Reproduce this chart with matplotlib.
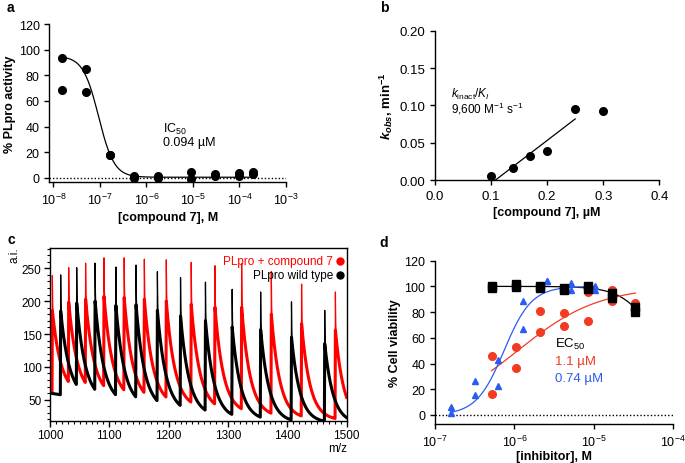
import numpy as np
import matplotlib
matplotlib.use("Agg")
import matplotlib.pyplot as plt
from matplotlib.ticker import FixedLocator, MultipleLocator, NullLocator, FormatStrFormatter

plt.rcParams['font.family'] = ['Liberation Sans', 'DejaVu Sans']
plt.rcParams['mathtext.fontset'] = 'custom'
plt.rcParams['mathtext.rm'] = 'Liberation Sans:bold'
plt.rcParams['mathtext.it'] = 'Liberation Sans:bold:italic'
plt.rcParams['mathtext.sf'] = 'Liberation Sans:italic'
plt.rcParams['font.size'] = 9
plt.rcParams['axes.linewidth'] = 1.0
plt.rcParams['xtick.major.width'] = 1.0
plt.rcParams['ytick.major.width'] = 1.0
plt.rcParams['xtick.labelsize'] = 9
plt.rcParams['ytick.labelsize'] = 9

# ---- panel a : IC50 of compound 7
conc_a = [1.56e-8, 4.95e-8, 1.65e-7, 5.3e-7, 1.78e-6, 9.1e-6, 2.93e-5, 9.6e-5, 1.99e-4]
act_a1 = [93.5, 84.7, 17.7, 1.3, 1.8, 4.2, 2.9, 3.9, 4.4]
act_a2 = [68.6, 66.8, 17.7, 0.2, -0.3, -0.8, 1.8, 1.3, 2.9]
IC50 = 9.4e-8
HILL_A = 2.6
TOP_A, BOT_A = 95.0, 0.5

# ---- panel b : kobs vs concentration
conc_b = [0.10, 0.14, 0.17, 0.20, 0.25, 0.30]
kobs_b = [0.0054, 0.0161, 0.0326, 0.0393, 0.0946, 0.0924]
SLOPE_B = 0.576   # 9,600 M-1 s-1 in min-1 uM-1
X0_B = 0.108
line_b_x = [0.108, 0.25]

# ---- panel c : MALDI spectrum peaks
red_mz = [1004, 1031.5, 1060, 1091, 1125, 1159, 1196, 1238, 1278, 1323, 1373, 1424, 1481]
red_top = [239, 251, 258, 266, 266, 264, 263, 259, 254, 257, 245, 226, 214]
black_mz = [1018, 1045, 1076, 1111, 1145, 1181, 1220, 1262, 1307, 1355, 1407, 1463]
black_top = [240, 251, 258, 252, 255, 245, 236, 229, 218, 214, 199, 186]
base_mz = [1000, 1100, 1200, 1300, 1400, 1500]
red_base = [62, 54, 42, 32, 22, 18]
black_base = [60, 46, 34, 22, 16, 14]

# ---- panel d : cell viability
conc_d = [5.16e-7, 1.04e-6, 2.08e-6, 4.17e-6, 8.33e-6, 1.67e-5, 3.33e-5]
tox_1 = [100.5, 102, 100, 99, 100, 95, 84]
tox_2 = [99, 99.5, 99, 97, 98, 91, 80]
red_1 = [46, 52.6, 80.6, 79.3, 95.4, 97.5, 87]
red_2 = [16.3, 36.3, 64.8, 69.5, 73.4, 88.9, 83.7]
conc_blue = [1.57e-7, 3.15e-7, 6.3e-7, 1.27e-6, 2.55e-6, 5.1e-6, 1.02e-5]
blue_1 = [6, 26.7, 42.8, 88.4, 104.5, 102.6, 100]
blue_2 = [1.8, 15.8, 22.8, 66.9, 104.5, 97.2, 97.5]
EC50_RED, HILL_RED = 1.1e-6, 0.85
EC50_BLUE, HILL_BLUE = 0.74e-6, 2.5
CC50, HILL_TOX = 7.3e-5, 2.0

RED_D = '#f23b22'
BLUE_D = '#2b5cf2'

fig = plt.figure(figsize=(6.85, 4.64), dpi=100)

# ================= a
ax = fig.add_axes([0.072, 0.6062, 0.3455, 0.3399])
ax.set_xscale('log')
ax.set_xlim(10 ** -8.086, 1e-3)
ax.set_ylim(-3, 120)
ax.axhline(0, color='k', ls=(0, (1, 1.5)), lw=1.0)
xc = np.logspace(np.log10(conc_a[0]), np.log10(conc_a[-1]), 300)
ax.plot(xc, BOT_A + (TOP_A - BOT_A) / (1 + (xc / IC50) ** HILL_A), color='k', lw=0.9)
ax.plot(conc_a, act_a1, 'o', color='k', ms=5.5)
ax.plot(conc_a, act_a2, 'o', color='k', ms=5.5)
ax.xaxis.set_major_locator(FixedLocator([1e-8, 1e-7, 1e-6, 1e-5, 1e-4, 1e-3]))
ax.xaxis.set_minor_locator(NullLocator())
ax.yaxis.set_major_locator(MultipleLocator(20))
ax.set_xlabel('[compound 7], M', fontweight='bold', fontsize=9, labelpad=3)
ax.set_ylabel('% PLpro activity', fontweight='bold', fontsize=9, labelpad=2)
ax.text(2.25e-6, 35.8, r'IC$_{\mathdefault{50}}$', fontsize=9)
ax.text(2.25e-6, 26, r'0.094 µM', fontsize=9)
for s in ['top', 'right']:
    ax.spines[s].set_visible(False)

# ================= b
ax = fig.add_axes([0.635, 0.6099, 0.3275, 0.3218])
ax.set_xlim(0, 0.4)
ax.set_ylim(0, 0.2)
lx = np.array(line_b_x)
ax.plot(lx, SLOPE_B * (lx - X0_B), color='k', lw=0.9)
ax.plot(conc_b, kobs_b, 'o', color='k', ms=5.5)
ax.xaxis.set_major_locator(MultipleLocator(0.1))
ax.yaxis.set_major_locator(MultipleLocator(0.05))
ax.xaxis.set_major_formatter(FormatStrFormatter('%.1f'))
ax.yaxis.set_major_formatter(FormatStrFormatter('%.2f'))
ax.tick_params(labelsize=9.5)
ax.set_xlabel('[compound 7], µM', fontweight='bold', fontsize=9, labelpad=3)
ax.set_ylabel(r'$k_{obs}$, min$^{-1}$', fontweight='bold', fontsize=9.5, labelpad=3)
ax.text(0.0285, 0.1116, r'$\mathsf{k}_{\mathdefault{inact}}$/$\mathsf{K}_{\mathsf{I}}$', fontsize=8.5)
ax.text(0.0285, 0.0907, r'9,600 M$^{\mathdefault{-1}}$ s$^{\mathdefault{-1}}$', fontsize=8.5)
for s in ['top', 'right']:
    ax.spines[s].set_visible(False)

# ================= c
ax = fig.add_axes([0.073, 0.0912, 0.4331, 0.3722])
mz = np.arange(1000, 1500.01, 0.1)


def spectrum(pk_mz, pk_top, b_vals, tau=14.0):
    # returns full trace and trace without the narrow tips
    y = np.interp(mz, base_mz, b_vals)
    y_body = y.copy()
    for m0, top in zip(pk_mz, pk_top):
        h = top - np.interp(m0, mz, y)
        body = 0.7 * h
        dx = mz - m0
        dpos = np.clip(dx, 0, None)
        tail = body * np.exp(-dpos / tau)
        after = (h - body) * np.exp(-dpos / 0.5) + tail
        y = y + np.where(dx >= 0, after, h * np.clip(1 + dx / 0.6, 0, 1))
        y_body = y_body + np.where(dx >= 0, tail, body * np.clip(1 + dx / 0.6, 0, 1))
    return y, y_body


red_full, red_body = spectrum(red_mz, red_top, red_base)
blk_full, blk_body = spectrum(black_mz, black_top, black_base)
ax.plot(mz, red_full, color='#ff0000', lw=0.9)
ax.plot(mz, red_body, color='#ff0000', lw=2.2)
ax.plot(mz, blk_full, color='k', lw=0.9)
ax.plot(mz, blk_body, color='k', lw=2.2)
ax.set_xlim(1000, 1500)
ax.set_ylim(18, 281)
ax.xaxis.set_major_locator(MultipleLocator(100))
ax.xaxis.set_minor_locator(MultipleLocator(10))
ax.set_yticks([50, 100, 150, 200, 250])
ax.yaxis.set_minor_locator(MultipleLocator(10))
ax.tick_params(which='major', length=4, labelsize=8.5, pad=2)
ax.tick_params(which='minor', length=2.5, width=0.8)
ax.text(1.0, -0.125, 'm/z', transform=ax.transAxes, ha='right', va='top', fontsize=8.5)
ax.text(0.954, 0.926, 'PLpro + compound 7', color='#ff0000', transform=ax.transAxes,
        ha='right', va='center', fontsize=8.5)
ax.text(0.954, 0.844, 'PLpro wild type', color='k', transform=ax.transAxes,
        ha='right', va='center', fontsize=8.5)
ax.plot([0.977], [0.926], 'o', color='#ff0000', ms=5, transform=ax.transAxes)
ax.plot([0.977], [0.844], 'o', color='k', ms=5, transform=ax.transAxes)
fig.text(15 / 685, 1 - 255 / 464, 'a.i.', rotation=90, ha='center', va='center', fontsize=8.5)

# ================= d
ax = fig.add_axes([0.635, 0.0841, 0.3479, 0.352])
ax.set_xscale('log')
ax.set_xlim(1e-7, 1e-4)
ax.set_ylim(-7, 120)
ax.axhline(0, color='k', ls=(0, (1, 1.5)), lw=1.0)
xt = np.logspace(np.log10(conc_d[0]), np.log10(conc_d[-1]), 200)
ax.plot(xt, 100 / (1 + (xt / CC50) ** HILL_TOX), color='k', lw=0.9)
ax.plot(xt, 100 / (1 + (EC50_RED / xt) ** HILL_RED), color=RED_D, lw=0.9)
xb = np.logspace(np.log10(conc_blue[0]), np.log10(conc_blue[-1]), 200)
ax.plot(xb, 100 / (1 + (EC50_BLUE / xb) ** HILL_BLUE), color=BLUE_D, lw=0.9)
ax.plot(conc_d, red_1, 'o', color=RED_D, ms=5.5)
ax.plot(conc_d, red_2, 'o', color=RED_D, ms=5.5)
ax.plot(conc_blue, blue_1, '^', color=BLUE_D, ms=5)
ax.plot(conc_blue, blue_2, '^', color=BLUE_D, ms=5)
ax.plot(conc_d, tox_1, 's', color='k', ms=5.5)
ax.plot(conc_d, tox_2, 's', color='k', ms=5.5)
ax.xaxis.set_major_locator(FixedLocator([1e-7, 1e-6, 1e-5, 1e-4]))
ax.xaxis.set_minor_locator(NullLocator())
ax.yaxis.set_major_locator(MultipleLocator(20))
ax.set_xlabel('[inhibitor], M', fontweight='bold', fontsize=9, labelpad=1)
ax.set_ylabel('% Cell viability', fontweight='bold', fontsize=9, labelpad=2)
ax.text(3.24e-6, 52.6, r'EC$_{\mathdefault{50}}$', fontsize=9.5)
ax.text(3.24e-6, 39.7, '1.1 µM', color=RED_D, fontsize=9.5)
ax.text(3.24e-6, 26.7, '0.74 µM', color=BLUE_D, fontsize=9.5)
for s in ['top', 'right']:
    ax.spines[s].set_visible(False)

# panel letters
for lab, px, py in [('a', 10, 8), ('b', 384, 8), ('c', 11, 240), ('d', 384, 243)]:
    fig.text(px / 685, 1 - py / 464, lab, fontweight='bold', fontsize=10, ha='center', va='center')

fig.savefig('out.png', dpi=100)
